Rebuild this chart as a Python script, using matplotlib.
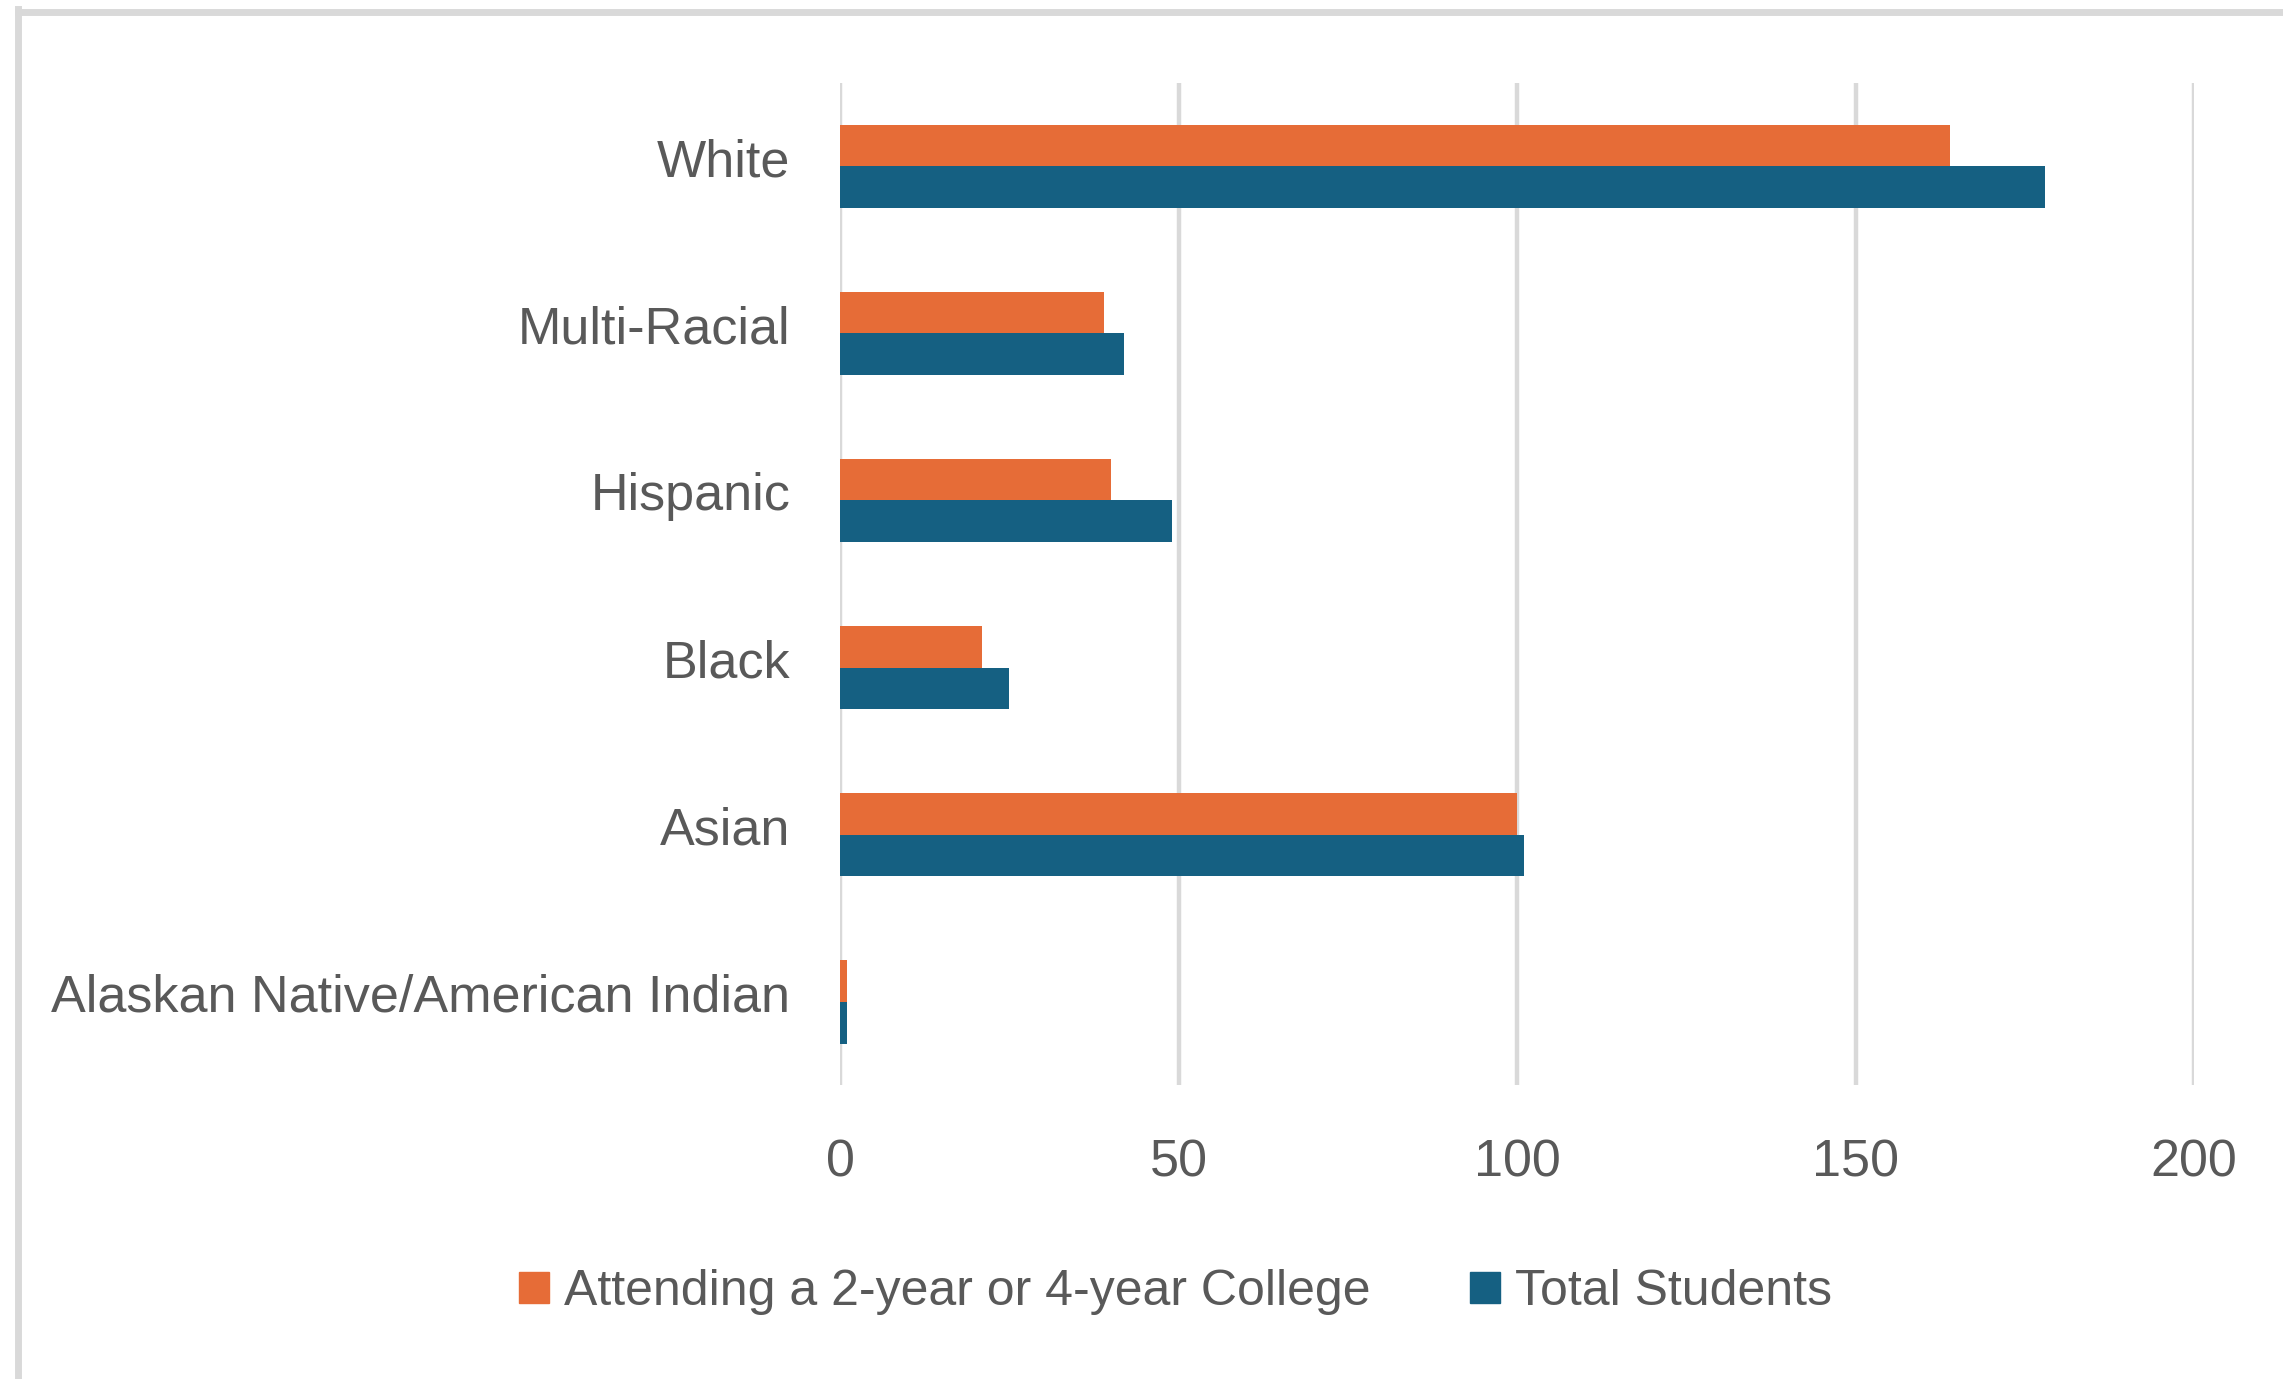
import matplotlib.pyplot as plt
import numpy as np
from matplotlib.lines import Line2D
from matplotlib.patches import Patch
from matplotlib.transforms import ScaledTranslation

categories = ["White", "Multi-Racial", "Hispanic", "Black", "Asian",
              "Alaskan Native/American Indian"]
attending = [164, 39, 40, 21, 100, 1]
total = [178, 42, 49, 25, 101, 1]
series_names = ["Attending a 2-year or 4-year College", "Total Students"]
xticks = [0, 50, 100, 150, 200]

ORANGE = "#E66C37"
BLUE = "#156082"
GRID = "#D9D9D9"
TEXT = "#595959"

plt.rcParams["font.family"] = ["Liberation Sans", "DejaVu Sans"]

fig = plt.figure(figsize=(22.83, 13.79), dpi=100)
ax = fig.add_axes([0.368, 0.213, 0.593, 0.727])

y = np.arange(len(categories))
h = 0.25
ax.barh(y - h / 2, attending, height=h, color=ORANGE, zorder=3)
ax.barh(y + h / 2, total, height=h, color=BLUE, zorder=3)

ax.set_ylim(len(categories) - 0.5, -0.5)
ax.set_xlim(0, 200)
ax.set_xticks(xticks)
ax.set_xticklabels([str(t) for t in xticks])
ax.set_yticks(y)
ax.set_yticklabels(categories)
ax.tick_params(axis="both", length=0, labelsize=37.5, labelcolor=TEXT)
ax.tick_params(axis="y", pad=36)
ax.tick_params(axis="x", pad=38)
# category labels sit a little above the bar pair centre
for lab in ax.get_yticklabels():
    lab.set_transform(lab.get_transform() + ScaledTranslation(0, 0.09, fig.dpi_scale_trans))
for s in ax.spines.values():
    s.set_visible(False)
ax.grid(axis="x", color=GRID, linewidth=3.2, zorder=0)

handles = [Patch(color=ORANGE), Patch(color=BLUE)]
fig.legend(handles, series_names, loc="center", bbox_to_anchor=(0.515, 0.063),
           ncol=2, frameon=False, fontsize=36, labelcolor=TEXT,
           handlelength=0.6, handleheight=0.6, handletextpad=0.3,
           columnspacing=2.0)

# chart frame (only top/left edges visible in the crop)
fig.add_artist(Line2D([0.0078, 1.0], [1 - 12 / 1379] * 2, color=GRID,
                      linewidth=5, transform=fig.transFigure))
fig.add_artist(Line2D([18 / 2283] * 2, [0.0, 1 - 9 / 1379], color=GRID,
                      linewidth=5, transform=fig.transFigure))

fig.savefig("out.png", dpi=100)
